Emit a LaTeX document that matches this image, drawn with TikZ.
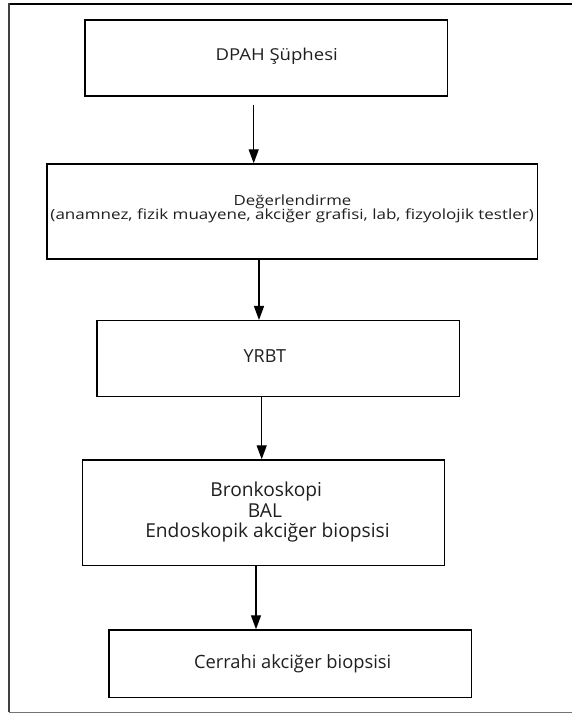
\documentclass[tikz,border=0pt]{standalone}
\usepackage{fontspec}
\setmainfont{Open Sans}
\usepackage{graphicx}
\usetikzlibrary{arrows.meta}
\begin{document}
\begin{tikzpicture}[x=1pt,y=-1pt,
  box/.style={draw=black,line width=1.5pt,inner sep=0pt,rectangle},
  txt/.style={anchor=base,inner sep=0pt,text=black!88},
  arr/.style={line width=1.4pt,-{Triangle[length=14pt,width=10pt]}}]
\useasboundingbox (0,0) rectangle (571,713);
% outer frame (right side runs off the picture)
\draw[black,line width=1.5pt] (575,4) -- (9,4);
\draw[black!75,line width=1.2pt] (9,3.3) -- (9,712);
\draw[black!55,line width=1pt] (9,712) -- (575,712);
% boxes
\node[box,minimum width=362.7pt,minimum height=76pt] (b1) at (266.35,58) {};
\node[box,minimum width=490.7pt,minimum height=95pt] (b2) at (292.35,211.5) {};
\node[box,minimum width=362.3pt,minimum height=76pt] (b3) at (278.15,358.7) {};
\node[box,minimum width=362pt,minimum height=105.3pt] (b4) at (263.3,512.65) {};
\node[box,minimum width=362.7pt,minimum height=67.5pt] (b5) at (290.35,663.75) {};
% texts
\node[txt] (t1) at (276.7,60.7) {\fontsize{16.4}{16.4}\selectfont\scalebox{1.13}[1]{DPAH Şüphesi}};
\node[txt] (t2a) at (292.5,205.5) {\fontsize{14}{14}\selectfont\scalebox{1.2}[1]{Değerlendirme}};
\node[txt] (t2b) at (292.2,219.5) {\fontsize{14}{14}\selectfont\scalebox{1.215}[1]{(anamnez, fizik muayene, akciğer grafisi, lab, fizyolojik testler)}};
\node[txt] (t3) at (264.8,362) {\fontsize{18}{18}\selectfont YRBT};
\node[txt] (t4a) at (266.2,496) {\fontsize{19.2}{19.2}\selectfont Bronkoskopi};
\node[txt] (t4b) at (265,517.7) {\fontsize{19.2}{19.2}\selectfont BAL};
\node[txt] (t4c) at (267.5,537.7) {\fontsize{19.2}{19.2}\selectfont Endoskopik akciğer biopsisi};
\node[txt] (t5) at (292.7,668.3) {\fontsize{18.3}{18.3}\selectfont Cerrahi akciğer biopsisi};
% connectors
\coordinate (a1) at (253.7,104.7);
\coordinate (x2) at (259,0);
\coordinate (x3) at (261.7,0);
\coordinate (x4) at (256,0);
\draw[arr] (a1) -- (a1 |- b2.north);
\draw[arr] (b2.south -| x2) -- (b3.north -| x2);
\draw[arr] (b3.south -| x3) -- (b4.north -| x3);
\draw[arr] (b4.south -| x4) -- (b5.north -| x4);
\end{tikzpicture}
\end{document}
